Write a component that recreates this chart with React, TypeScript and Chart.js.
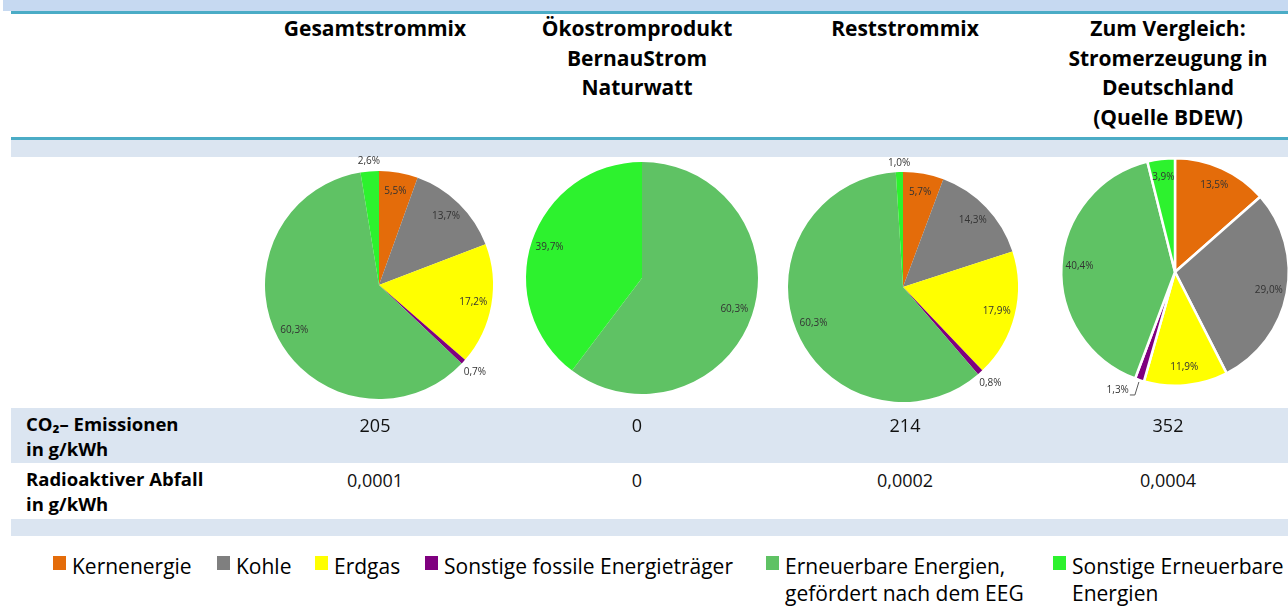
import React, { useEffect, useRef } from "react";
import { Chart, registerables } from "chart.js";

Chart.register(...registerables);

// ---------- data ----------
const CATEGORIES = [
  "Kernenergie",
  "Kohle",
  "Erdgas",
  "Sonstige fossile Energieträger",
  "Erneuerbare Energien, gefördert nach dem EEG",
  "Sonstige Erneuerbare Energien",
];
const LEGEND_LINES = [
  ["Kernenergie"],
  ["Kohle"],
  ["Erdgas"],
  ["Sonstige fossile Energieträger"],
  ["Erneuerbare Energien,", "gefördert nach dem EEG"],
  ["Sonstige Erneuerbare", "Energien"],
];
const COLORS = ["#E46C0A", "#7F7F7F", "#FFFF00", "#7F007F", "#5FC264", "#2DF22E"];

const COLUMN_TITLES = [
  ["Gesamtstrommix"],
  ["Ökostromprodukt", "BernauStrom", "Naturwatt"],
  ["Reststrommix"],
  ["Zum Vergleich:", "Stromerzeugung in", "Deutschland", "(Quelle BDEW)"],
];
const GESAMT = [5.5, 13.7, 17.2, 0.7, 60.3, 2.6];
const OEKO = [0, 0, 0, 0, 60.3, 39.7];
const REST = [5.7, 14.3, 17.9, 0.8, 60.3, 1.0];
const DEUTSCHLAND = [13.5, 29.0, 11.9, 1.3, 40.4, 3.9];

const ROW_LABELS = [
  ["CO₂– Emissionen", "in g/kWh"],
  ["Radioaktiver Abfall", "in g/kWh"],
];
const CO2_VALUES = ["205", "0", "214", "352"];
const WASTE_VALUES = ["0,0001", "0", "0,0002", "0,0004"];

// ---------- layout ----------
const COL_CENTERS = [375, 637, 905, 1168];
const PIES = [
  { values: GESAMT, cx: 379, cy: 285, r: 114, border: 0 },
  { values: OEKO, cx: 642, cy: 278, r: 116, border: 0 },
  { values: REST, cx: 903, cy: 287, r: 115, border: 0 },
  { values: DEUTSCHLAND, cx: 1175, cy: 272, r: 114, border: 2.5 },
];
const LEGEND_X = [53, 217, 315, 425, 766, 1053];

const labelPlugin = {
  id: "pctLabels",
  afterDatasetsDraw(chart: any) {
    const ctx = chart.ctx as CanvasRenderingContext2D;
    const meta = chart.getDatasetMeta(0);
    const data = chart.data.datasets[0].data as number[];
    ctx.save();
    ctx.font = '10px "Open Sans"';
    ctx.fillStyle = "#333333";
    ctx.strokeStyle = "#595959";
    ctx.lineWidth = 1;
    ctx.textBaseline = "middle";
    meta.data.forEach((arc: any, i: number) => {
      const v = data[i];
      if (!v) return;
      const { x, y, startAngle, endAngle, outerRadius } = arc.getProps(
        ["x", "y", "startAngle", "endAngle", "outerRadius"],
        true
      );
      const mid = (startAngle + endAngle) / 2;
      const dx = Math.cos(mid);
      const dy = Math.sin(mid);
      const text = v.toFixed(1).replace(".", ",") + "%";
      if (v >= 3) {
        ctx.textAlign = "center";
        ctx.fillText(text, x + dx * outerRadius * 0.84, y + dy * outerRadius * 0.84);
      } else {
        const w = ctx.measureText(text).width;
        if (dx < -0.05 && dy > 0.05) {
          // label pulled away with a leader line
          const ex = x + dx * (outerRadius + 2);
          const ey = y + dy * (outerRadius + 2);
          const bx = ex - 4;
          const by = ey + 13;
          const hx = bx - 5;
          ctx.beginPath();
          ctx.moveTo(ex, ey);
          ctx.lineTo(bx, by);
          ctx.lineTo(hx, by);
          ctx.stroke();
          ctx.textAlign = "right";
          ctx.fillText(text, hx - 1, by - 5);
        } else {
          const d = outerRadius + 4 + (Math.abs(dx) * w) / 2 + Math.abs(dy) * 5;
          ctx.textAlign = "center";
          ctx.fillText(text, x + dx * d, y + dy * d);
        }
      }
    });
    ctx.restore();
  },
};

function PieChart({ values, cx, cy, r, border }: { values: number[]; cx: number; cy: number; r: number; border: number }) {
  const ref = useRef<HTMLCanvasElement>(null);
  const pad = 40;
  const size = 2 * (r + pad) + border;
  useEffect(() => {
    const chart = new Chart(ref.current as HTMLCanvasElement, {
      type: "pie",
      data: {
        labels: CATEGORIES,
        datasets: [
          {
            data: values,
            backgroundColor: COLORS,
            borderColor: "#ffffff",
            borderWidth: border,
            hoverBorderWidth: border,
            hoverOffset: 0,
            offset: 0,
          } as any,
        ],
      },
      options: {
        responsive: false,
        animation: false,
        devicePixelRatio: 1,
        events: [],
        layout: { padding: pad },
        plugins: { legend: { display: false }, tooltip: { enabled: false } },
      },
      plugins: [labelPlugin as any],
    });
    return () => chart.destroy();
  }, []);
  return (
    <canvas
      ref={ref}
      width={size}
      height={size}
      style={{ position: "absolute", left: cx - size / 2, top: cy - size / 2, width: size, height: size }}
    />
  );
}

const band = (left: number, top: number, height: number, color: string) => (
  <div style={{ position: "absolute", left, top, width: 1288 - left, height, background: color }} />
);

export default function App() {
  return (
    <div
      style={{
        position: "absolute",
        left: 0,
        top: 0,
        width: 1288,
        height: 608,
        overflow: "hidden",
        background: "#ffffff",
        fontFamily: '"Open Sans", sans-serif',
        color: "#000",
      }}
    >
      {band(3, 0, 11, "#C6D9F1")}
      {band(11, 11, 3, "#4BACC6")}
      {band(11, 137, 3, "#4BACC6")}
      {band(11, 140, 17, "#DBE5F1")}
      {band(11, 408, 55, "#DBE5F1")}
      {band(11, 519, 17, "#DBE5F1")}

      {COLUMN_TITLES.map((lines, i) => (
        <div
          key={"t" + i}
          style={{
            position: "absolute",
            left: COL_CENTERS[i] - 160,
            width: 320,
            top: 14,
            textAlign: "center",
            fontWeight: 700,
            fontSize: 21,
            lineHeight: "29.7px",
            whiteSpace: "nowrap",
          }}
        >
          {lines.map((l, j) => (
            <div key={j}>{l}</div>
          ))}
        </div>
      ))}

      {PIES.map((p, i) => (
        <PieChart key={"p" + i} {...p} />
      ))}

      {ROW_LABELS.map((lines, i) => (
        <div
          key={"r" + i}
          style={{
            position: "absolute",
            left: 26,
            top: i === 0 ? 411 : 466,
            fontWeight: 700,
            fontSize: 18.5,
            lineHeight: "25px",
            whiteSpace: "nowrap",
          }}
        >
          {lines.map((l, j) => (
            <div key={j}>{l}</div>
          ))}
        </div>
      ))}

      {[CO2_VALUES, WASTE_VALUES].map((vals, i) =>
        vals.map((v, j) => (
          <div
            key={"v" + i + j}
            style={{
              position: "absolute",
              left: COL_CENTERS[j] - 80,
              width: 160,
              top: i === 0 ? 412.5 : 467.5,
              textAlign: "center",
              fontSize: 18,
              lineHeight: "25px",
              color: "#111",
            }}
          >
            {v}
          </div>
        ))
      )}

      {LEGEND_LINES.map((lines, i) => (
        <React.Fragment key={"l" + i}>
          <div
            style={{
              position: "absolute",
              left: LEGEND_X[i],
              top: 556,
              width: 13,
              height: 14,
              background: COLORS[i],
            }}
          />
          <div
            style={{
              position: "absolute",
              left: LEGEND_X[i] + 19,
              top: 552.5,
              fontSize: 21,
              lineHeight: "27px",
              whiteSpace: "nowrap",
              color: "#000",
            }}
          >
            {lines.map((l, j) => (
              <div key={j}>{l}</div>
            ))}
          </div>
        </React.Fragment>
      ))}
    </div>
  );
}
